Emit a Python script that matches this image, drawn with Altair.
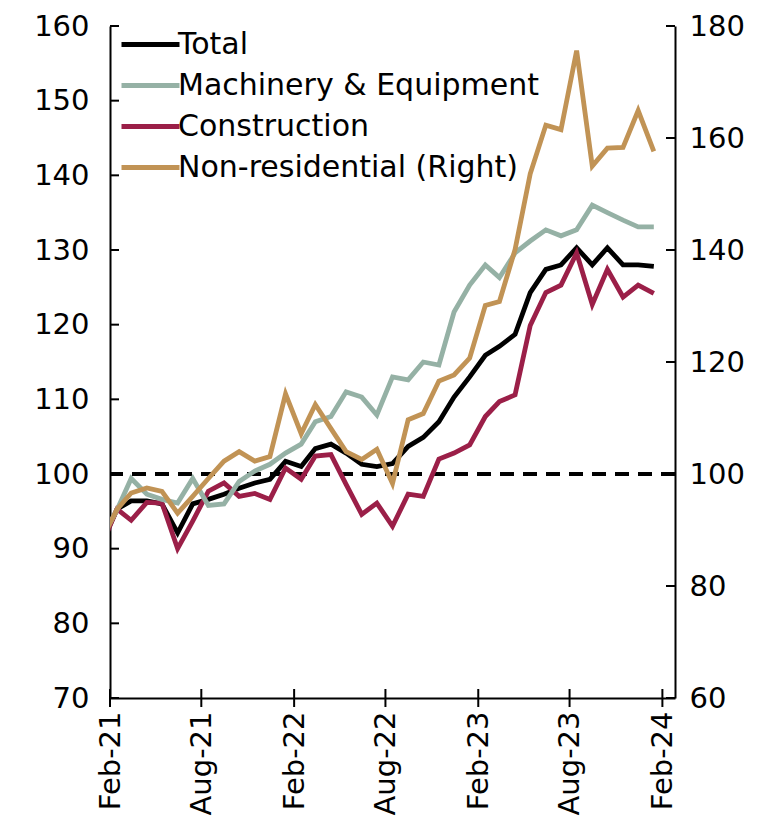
import altair as alt
import pandas as pd

MONTHS = [
    "2021-01-15", "2021-02-15", "2021-03-15", "2021-04-15", "2021-05-15", "2021-06-15",
    "2021-07-15", "2021-08-15", "2021-09-15", "2021-10-15", "2021-11-15", "2021-12-15",
    "2022-01-15", "2022-02-15", "2022-03-15", "2022-04-15", "2022-05-15", "2022-06-15",
    "2022-07-15", "2022-08-15", "2022-09-15", "2022-10-15", "2022-11-15", "2022-12-15",
    "2023-01-15", "2023-02-15", "2023-03-15", "2023-04-15", "2023-05-15", "2023-06-15",
    "2023-07-15", "2023-08-15", "2023-09-15", "2023-10-15", "2023-11-15", "2023-12-15",
    "2024-01-15",
]

TOTAL = [90.6, 95.3, 96.4, 96.4, 96.0, 92.1, 96.0, 96.6, 97.3, 98.1, 98.8, 99.3,
         101.7, 101.0, 103.4, 104.0, 102.8, 101.3, 101.0, 101.4, 103.7, 104.9, 107.0, 110.3,
         113.0, 115.9, 117.1, 118.7, 124.3, 127.4, 128.0, 130.3, 128.0, 130.3, 128.0, 128.0,
         127.8]
MACHINERY = [91.4, 95.2, 99.4, 97.3, 96.6, 96.1, 99.4, 95.8, 96.0, 99.0, 100.4, 101.3,
             102.8, 104.0, 107.0, 107.7, 111.0, 110.3, 107.9, 113.0, 112.6, 115.0, 114.6, 121.7,
             125.3, 128.0, 126.3, 129.6, 131.2, 132.7, 131.9, 132.7, 136.0, 135.0, 134.0, 133.1,
             133.1]
CONSTRUCTION = [90.4, 95.3, 93.8, 96.2, 96.1, 90.0, 93.7, 97.7, 98.8, 97.0, 97.4, 96.6,
                100.8, 99.3, 102.4, 102.6, 98.6, 94.6, 96.1, 93.0, 97.3, 97.0, 102.0, 102.8,
                103.9, 107.7, 109.7, 110.6, 119.9, 124.3, 125.3, 129.6, 122.7, 127.4, 123.7, 125.3,
                124.2]
NONRES = [88.1, 93.7, 96.6, 97.5, 96.9, 93.0, 96.0, 99.2, 102.3, 104.0, 102.3, 103.1,
          114.3, 107.2, 112.4, 108.1, 104.0, 102.6, 104.4, 98.3, 109.7, 110.8, 116.6, 117.7,
          120.7, 130.1, 130.8, 140.1, 153.6, 162.3, 161.5, 175.6, 155.0, 158.2, 158.3, 164.9,
          157.6]

SERIES = ["Total", "Machinery & Equipment", "Construction", "Non-residential (Right)"]
COLORS = ["#000000", "#95B1A5", "#9B1F48", "#C19355"]

X_TICKS = ["2021-02-01", "2021-08-01", "2022-02-01", "2022-08-01", "2023-02-01",
           "2023-08-01", "2024-02-01"]
X_DOMAIN = ["2021-02-01", "2024-02-26"]
LEFT_TICKS = [70, 80, 90, 100, 110, 120, 130, 140, 150, 160]
RIGHT_TICKS = [60, 80, 100, 120, 140, 160, 180]
REF_LEVEL = [100]

FONT = "DejaVu Sans"
AXIS_FS = 29
X_FS = 29
LEG_FS = 30
W, H = 565, 672


def ms(s):
    return int(pd.Timestamp(s, tz="UTC").value // 10**6)


rows = []
for name, vals in zip(SERIES, [TOTAL, MACHINERY, CONSTRUCTION, NONRES]):
    for d, v in zip(MONTHS, vals):
        rows.append({"date": ms(d), "series": name, "value": v})
df = pd.DataFrame(rows)

x_enc = alt.X(
    "date:T",
    scale=alt.Scale(type="utc", domain=[ms(X_DOMAIN[0]), ms(X_DOMAIN[1])]),
    axis=alt.Axis(values=[ms(t) for t in X_TICKS],
                  labelExpr="utcFormat(datum.value, '%b-%y')",
                  labelAngle=-90, labelAlign="right", labelBaseline="middle",
                  ticks=False, grid=False, domainColor="black", domainWidth=2,
                  labelFont=FONT, labelFontSize=X_FS, labelColor="black",
                  labelPadding=13, title=None),
)
y_left = alt.Y(
    "value:Q",
    scale=alt.Scale(domain=[70, 160], nice=False, zero=False),
    axis=alt.Axis(values=LEFT_TICKS, ticks=False, grid=False, domainColor="black",
                  domainWidth=2, labelFont=FONT, labelFontSize=AXIS_FS, labelColor="black",
                  labelPadding=21, title=None),
)
y_right = alt.Y(
    "value:Q",
    scale=alt.Scale(domain=[60, 180], nice=False, zero=False),
    axis=alt.Axis(orient="right", values=RIGHT_TICKS, ticks=False, grid=False,
                  domainColor="black", domainWidth=2, labelFont=FONT, labelFontSize=AXIS_FS,
                  labelColor="black", labelPadding=14, title=None),
)
color = alt.Color(
    "series:N",
    scale=alt.Scale(domain=SERIES, range=COLORS),
    legend=alt.Legend(orient="none", legendX=8, legendY=-4, title=None,
                      symbolType="M-1.45,0H1.45", symbolSize=1600, symbolStrokeWidth=5,
                      labelFont=FONT, labelFontSize=LEG_FS, labelColor="black",
                      labelLimit=0, rowPadding=3, labelOffset=5, symbolOffset=10),
)

base = alt.Chart(df)


def series_line(name, y):
    return base.transform_filter(alt.datum.series == name).mark_line(
        strokeWidth=4.8, clip=True, strokeJoin="miter").encode(x=x_enc, y=y, color=color)


ref = alt.Chart(pd.DataFrame({"value": REF_LEVEL})).mark_rule(
    color="black", strokeWidth=4, strokeDash=[14, 9]).encode(y=y_left)
left_ticks = alt.Chart(pd.DataFrame({"value": LEFT_TICKS})).mark_rule(
    color="black", strokeWidth=2).encode(y=y_left, x=alt.value(0), x2=alt.value(9))
x_ticks = alt.Chart(pd.DataFrame({"date": [ms(t) for t in X_TICKS]})).mark_rule(
    color="black", strokeWidth=2).encode(x=x_enc, y=alt.value(H - 9), y2=alt.value(H + 9))
right_ticks = alt.Chart(pd.DataFrame({"value": RIGHT_TICKS})).mark_rule(
    color="black", strokeWidth=2).encode(y=y_right, x=alt.value(W - 9), x2=alt.value(W))

left = alt.layer(ref, series_line("Total", y_left), series_line("Construction", y_left),
                 series_line("Machinery & Equipment", y_left), left_ticks, x_ticks)
right = alt.layer(series_line("Non-residential (Right)", y_right), right_ticks)

chart = alt.layer(left, right).resolve_scale(y="independent").properties(
    width=W, height=H,
    autosize=alt.AutoSizeParams(type="none"),
    padding={"left": 102, "top": 18, "right": 80, "bottom": 127},
).configure_view(strokeWidth=0)

chart.save("out.html", embed_options={"renderer": "svg", "actions": False})
